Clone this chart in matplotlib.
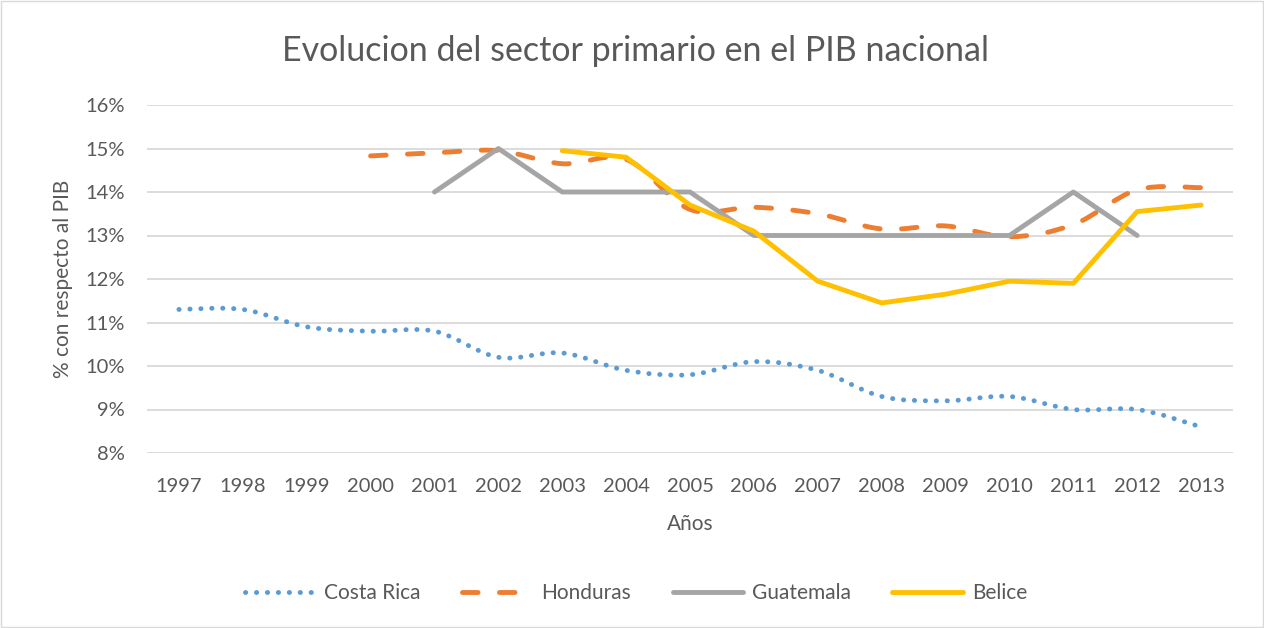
import numpy as np
import matplotlib
matplotlib.use("Agg")
import matplotlib.pyplot as plt
from matplotlib.path import Path
from matplotlib.patches import PathPatch, Rectangle
from matplotlib.lines import Line2D
from matplotlib.ticker import FuncFormatter

plt.rcParams['font.family'] = ['Lato', 'DejaVu Sans']

# data (values in %)
years = list(range(1997, 2014))
costa_rica_years = years
costa_rica = [11.3, 11.3, 10.9, 10.8, 10.8, 10.2, 10.3, 9.9, 9.8, 10.1,
              9.9, 9.3, 9.2, 9.3, 9.0, 9.0, 8.6]
honduras_years = list(range(2000, 2014))
honduras = [14.83, 14.9, 14.95, 14.65, 14.75, 13.6, 13.65, 13.5, 13.15,
            13.22, 12.97, 13.25, 14.05, 14.1]
guatemala_years = list(range(2001, 2013))
guatemala = [14, 15, 14, 14, 14, 13, 13, 13, 13, 13, 14, 13]
belice_years = list(range(2003, 2014))
belice = [14.95, 14.8, 13.7, 13.1, 11.95, 11.45, 11.65, 11.95, 11.9, 13.55, 13.7]

names = ['Costa Rica', 'Honduras', 'Guatemala', 'Belice']
colors = ['#5B9BD5', '#ED7D31', '#A5A5A5', '#FFC000']
text_color = '#595959'


def smooth_path(xs, ys):
    # bezier segments like Excel's smoothed line
    pts = np.column_stack([xs, ys]).astype(float)
    n = len(pts)
    verts = [pts[0]]
    codes = [Path.MOVETO]
    for i in range(n - 1):
        p0 = pts[i - 1] if i > 0 else pts[i]
        p1 = pts[i]
        p2 = pts[i + 1]
        p3 = pts[i + 2] if i + 2 < n else pts[i + 1]
        c1 = p1 + (p2 - p0) / 6.0
        c2 = p2 - (p3 - p1) / 6.0
        verts += [c1, c2, p2]
        codes += [Path.CURVE4] * 3
    return Path(verts, codes)


fig = plt.figure(figsize=(12.64, 6.28), dpi=100)
fig.patches.append(Rectangle((0.001, 0.001), 0.998, 0.997, transform=fig.transFigure,
                             fill=False, edgecolor='#d9d9d9', linewidth=1))
ax = fig.add_axes([147 / 1264, 1 - 453 / 628, (1233 - 147) / 1264, (453 - 105) / 628])

lw = 3.5
cr_style = (0, (0.05, 2.2))
ho_style = (0, (3.2, 4.4))

ax.add_patch(PathPatch(smooth_path(costa_rica_years, costa_rica), fill=False,
                       edgecolor=colors[0], linewidth=lw, linestyle=cr_style,
                       capstyle='round', zorder=3))
ax.add_patch(PathPatch(smooth_path(honduras_years, honduras), fill=False,
                       edgecolor=colors[1], linewidth=lw, linestyle=ho_style,
                       capstyle='round', zorder=3))
ax.plot(guatemala_years, guatemala, color=colors[2], linewidth=lw,
        solid_capstyle='round', solid_joinstyle='round', zorder=3)
ax.plot(belice_years, belice, color=colors[3], linewidth=lw,
        solid_capstyle='round', solid_joinstyle='round', zorder=4)

ax.set_xlim(1996.5, 2013.5)
ax.set_ylim(8, 16)
ax.set_xticks(years)
ax.set_yticks(range(8, 17))
ax.yaxis.set_major_formatter(FuncFormatter(lambda v, p: f'{int(v)}%'))
ax.grid(axis='y', color='#d9d9d9', linewidth=1.3)
ax.set_axisbelow(True)
for s in ax.spines.values():
    s.set_visible(False)
ax.tick_params(length=0, labelsize=14.5, labelcolor=text_color)
ax.tick_params(axis='x', pad=18)
ax.tick_params(axis='y', pad=16)

ax.set_xlabel('Años', fontsize=15, color=text_color, labelpad=14)
ax.set_ylabel('% con respecto al PIB', fontsize=15, color=text_color, labelpad=9)
fig.text(0.503, 0.918, 'Evolucion del sector primario en el PIB nacional',
         ha='center', va='center', fontsize=24.5, color=text_color)

handles = [
    Line2D([], [], color=colors[0], linewidth=lw, linestyle=cr_style, dash_capstyle='round'),
    Line2D([], [], color=colors[1], linewidth=lw, linestyle=ho_style, dash_capstyle='round'),
    Line2D([], [], color=colors[2], linewidth=lw, solid_capstyle='round'),
    Line2D([], [], color=colors[3], linewidth=lw, solid_capstyle='round'),
]
fig.legend(handles, names, loc='center', bbox_to_anchor=(0.503, 1 - 593 / 628),
           ncol=4, frameon=False, fontsize=15, labelcolor=text_color,
           handlelength=3.4, handletextpad=0.4, columnspacing=2.0)

fig.savefig('out.png', dpi=100)
